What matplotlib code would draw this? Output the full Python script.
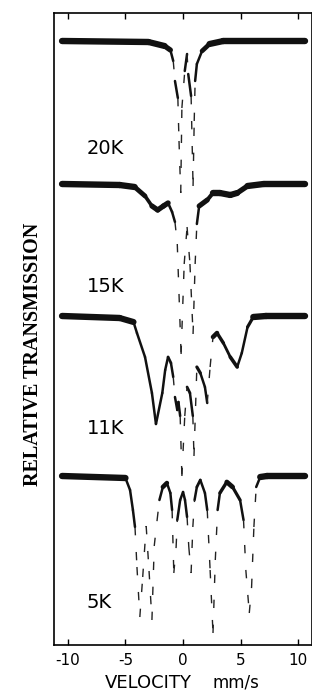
import numpy as np
import matplotlib
matplotlib.use('Agg')
import matplotlib.pyplot as plt
from matplotlib.collections import LineCollection

# Mossbauer spectra, velocity in mm/s, absorption below each baseline (arb. units)
temps = ['20K', '15K', '11K', '5K']
baselines = [604, 461, 329, 169]

v_20k = [-10.5, -3.0, -1.6, -1.1, -0.85, -0.7, -0.45, -0.35, -0.2, -0.1, 0.15,
         0.35, 0.45, 0.7, 0.87, 0.97, 1.05, 1.2, 1.65, 2.3, 3.5, 10.6]
a_20k = [0, 1, 5, 9, 20, 40, 57, 100, 152, 67, 30,
         13, 33, 55, 145, 80, 40, 23, 10, 3, 0, 0]

v_15k = [-10.5, -5.5, -4.2, -3.3, -2.7, -2.2, -1.7, -1.3, -0.95, -0.7, -0.5,
         -0.35, -0.17, 0.1, 0.35, 0.6, 0.87, 1.05, 1.2, 1.4, 2.1, 2.6,
         3.2, 4.1, 4.7, 5.6, 7.0, 10.6]
a_15k = [0, 1, 3, 12, 22, 26, 22, 19, 28, 38, 60,
         110, 170, 80, 43, 80, 150, 80, 40, 22, 16, 9,
         9, 11, 9, 2, 0, 0]

v_11k = [-10.5, -5.5, -4.3, -4.0, -3.3, -2.7, -2.35, -1.8, -1.55, -1.3, -1.05,
         -0.85, -0.7, -0.5, -0.4, -0.25, -0.1, 0.15, 0.35, 0.6, 0.85, 0.95,
         1.2, 1.5, 1.9, 2.1, 2.35, 2.6, 2.95, 3.5, 4.1, 4.7, 5.1, 5.6,
         6.1, 7.2, 10.6]
a_11k = [0, 2, 6, 17, 41, 77, 108, 77, 54, 41, 47,
         61, 81, 94, 86, 100, 160, 100, 71, 77, 100, 140,
         51, 57, 71, 87, 51, 21, 17, 27, 41, 51, 37, 11,
         1, 0, 0]

v_5k = [-10.5, -5.0, -4.6, -4.35, -4.17, -4.0, -3.75, -3.5, -3.2, -2.95, -2.7,
        -2.5, -2.25, -2.05, -1.75, -1.4, -1.1, -0.95, -0.8, -0.6, -0.5, -0.25,
        0.0, 0.17, 0.35, 0.5, 0.7, 0.85, 1.0, 1.2, 1.5, 1.9, 2.1, 2.35,
        2.6, 2.8, 3.0, 3.2, 3.8, 4.3, 4.95, 5.25, 5.45, 5.75, 5.95, 6.15,
        6.35, 6.7, 7.3, 10.6]
a_5k = [0, 2, 14, 34, 51, 91, 141, 101, 50, 95, 144,
        70, 44, 24, 11, 7, 17, 34, 97, 71, 44, 24,
        16, 24, 41, 71, 97, 51, 24, 11, 4, 17, 34, 94,
        157, 84, 34, 17, 6, 11, 24, 44, 94, 137, 111, 51,
        11, 1, 0, 0]

velocities = [v_20k, v_15k, v_11k, v_5k]
absorptions = [a_20k, a_15k, a_11k, a_5k]

xticks = [-10, -5, 0, 5, 10]
xticklabels = ['-10', '-5', '0', '5', '10']


def draw_spectrum(ax, v, y, band=4.6):
    """Thick noisy-looking band where flat, sparse dashes where the curve is steep"""
    pts = ax.transData.transform(np.column_stack([v, y]))
    solid, widths, dashed = [], [], []
    for i in range(len(v) - 1):
        dx, dy = pts[i + 1] - pts[i]
        seg = [(v[i], y[i]), (v[i + 1], y[i + 1])]
        if abs(dy) > 18 and abs(dy) > 8 * abs(dx):
            dashed.append(seg)
        else:
            solid.append(seg)
            widths.append(max(1.8, band * abs(dx) / np.hypot(dx, dy)))
    ax.add_collection(LineCollection(solid, linewidths=widths, colors='#111111',
                                     capstyle='round', joinstyle='round'))
    ax.add_collection(LineCollection(dashed, linewidths=1.0, colors='#222222',
                                     linestyles=[(0, (6, 12))]))


fig = plt.figure(figsize=(3.12, 6.93), dpi=100)
ax = fig.add_axes([54 / 312, 48 / 693, 257.5 / 312, 632 / 693])
ax.set_xlim(-11.2, 11.15)
ax.set_ylim(0, 632)

for v, a, base in zip(velocities, absorptions, baselines):
    y = [base - val for val in a]
    draw_spectrum(ax, v, y)

label_y = [497, 358, 217, 42]
for name, ly in zip(temps, label_y):
    ax.text(-8.35, ly, name, fontsize=14, ha='left', va='center',
            family='DejaVu Sans')

ax.set_xticks(xticks)
ax.set_xticklabels(xticklabels, fontsize=11, family='DejaVu Sans')
ax.set_yticks([])
ax.tick_params(axis='x', direction='in', length=4, width=1, top=True, pad=6)
for sp in ax.spines.values():
    sp.set_linewidth(1.2)

fig.text(105 / 312, 1 - 682.5 / 693, 'VELOCITY', fontsize=13, ha='left', va='center',
         family='DejaVu Sans')
fig.text(213 / 312, 1 - 682.5 / 693, 'mm/s', fontsize=12, ha='left', va='center',
         family='DejaVu Sans')
fig.text(33 / 312, 1 - 354 / 693, 'RELATIVE TRANSMISSION', rotation=90,
         fontsize=14.5, fontweight='bold', family='Liberation Serif',
         ha='center', va='center')

fig.savefig('out.png', dpi=100, facecolor='white')
